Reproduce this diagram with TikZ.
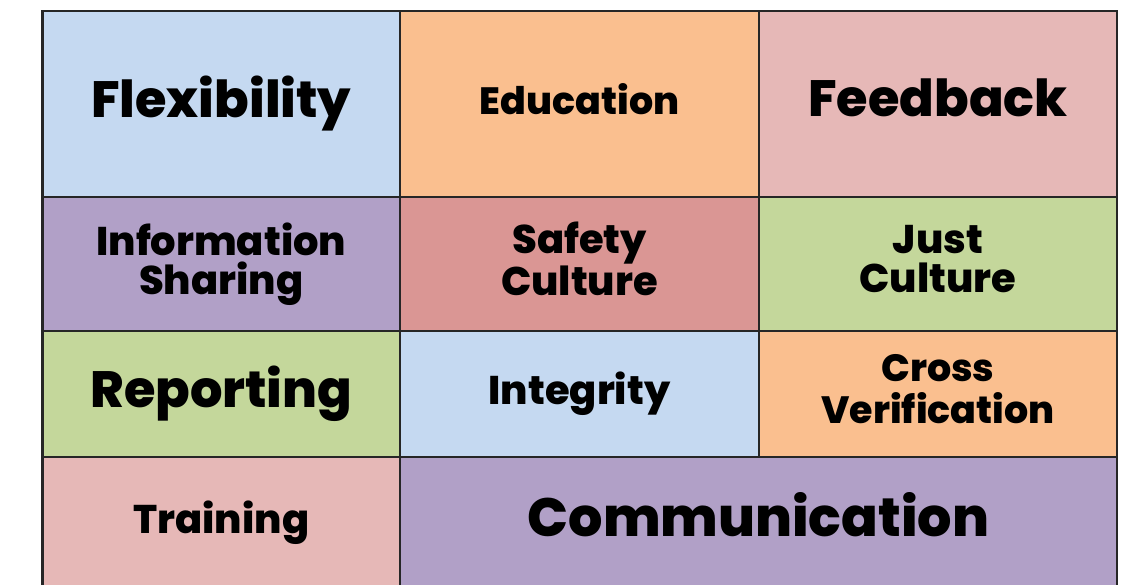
\documentclass[tikz,border=0pt]{standalone}
\usepackage{fontspec}
\setmainfont{Poppins}[BoldFont={Poppins ExtraBold}]
\usepackage{tikz}
\usetikzlibrary{calc}

\definecolor{cblue}{HTML}{C5D9F1}
\definecolor{corange}{HTML}{FABF8F}
\definecolor{cpink}{HTML}{E6B8B7}
\definecolor{cpurple}{HTML}{B1A0C7}
\definecolor{crose}{HTML}{DA9694}
\definecolor{cgreen}{HTML}{C4D79B}
\definecolor{cline}{HTML}{262626}

\tikzset{
	cell/.style={draw=cline, line width=2.2pt, rectangle, anchor=north west, inner sep=0pt, outer sep=0pt, align=center, font=\bfseries,
		execute at begin node=\vphantom{ly}, execute at end node=\vphantom{ly}},
	wide/.style={minimum width=357.5pt},
	big/.style={font=\fontsize{51}{54}\selectfont\bfseries},
	mid/.style={font=\fontsize{40}{39}\selectfont\bfseries},
}

\begin{document}
\begin{tikzpicture}[x=1pt,y=-1pt]
		\useasboundingbox (0,0) rectangle (1138,584);
		\clip (0,0) rectangle (1138,584);
		% top row
		\node[cell,wide,minimum height=186pt,fill=cblue,big] (flex) at (42.5,11) {Flexibility};
		\node[cell,minimum width=359pt,minimum height=186pt,fill=corange,font=\fontsize{38}{40}\selectfont\bfseries] (edu) at (400,11) {Education};
		\node[cell,minimum width=358pt,minimum height=186pt,fill=cpink,big] (feed) at (759,11) {Feedback};
		% second row
		\node[cell,wide,minimum height=134pt,fill=cpurple,mid] (info) at (42.5,197) {Information\\Sharing};
		\node[cell,minimum width=359pt,minimum height=134pt,fill=crose,mid] (safety) at (400,197) {Safety\\Culture};
		\node[cell,minimum width=358pt,minimum height=134pt,fill=cgreen,mid] (just) at (759,197) {Just\\Culture};
		% third row
		\node[cell,wide,minimum height=126pt,fill=cgreen,big] (report) at (42.5,331) {Reporting};
		\node[cell,minimum width=359pt,minimum height=126pt,fill=cblue,mid] (integ) at (400,331) {Integrity};
		\node[cell,minimum width=358pt,minimum height=126pt,fill=corange,font=\fontsize{38}{42}\selectfont\bfseries] (cross) at (759,331) {Cross\\Verification};
		% bottom row (runs off the page)
		\node[cell,wide,minimum height=160pt,fill=cpink,font=\fontsize{40}{44}\selectfont\bfseries] (train) at (42.5,457) {\raisebox{29pt}{Training}};
		\node[cell,minimum width=717pt,minimum height=160pt,fill=cpurple,font=\fontsize{54}{60}\selectfont\bfseries] (comm) at (400,457) {\raisebox{30pt}{Communication}};
	\end{tikzpicture}
\end{document}
